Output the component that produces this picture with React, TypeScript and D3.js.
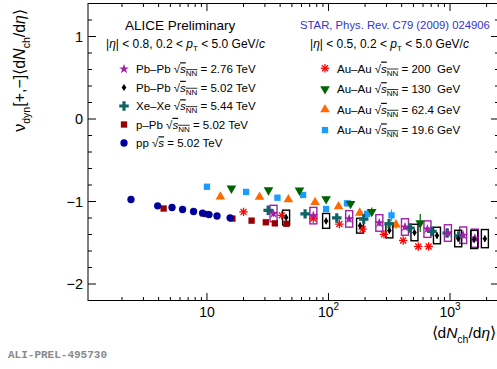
import React from 'react';
import * as d3 from 'd3';

// ---- data ----
const ppX = [2.37, 3.93, 5.16, 6.30, 7.76, 9.20, 10.4, 12.1, 15.5];
const ppY = [-0.976, -1.052, -1.073, -1.097, -1.121, -1.142, -1.158, -1.176, -1.198];

const pPbX = [4.40, 9.87, 16.2, 23.3, 30.5, 36.2, 45.1];
const pPbY = [-1.085, -1.152, -1.207, -1.232, -1.252, -1.265, -1.27];

const xeX = [31.9, 64.2, 117, 195, 315, 468, 710, 948, 1177];
const xeY = [-1.107, -1.150, -1.199, -1.213, -1.271, -1.321, -1.362, -1.382, -1.417];

const pb276X = [35.3, 75.1, 148, 262, 426, 652, 961, 1284, 1602];
const pb276Y = [-1.146, -1.171, -1.211, -1.260, -1.309, -1.335, -1.382, -1.409, -1.445];
const pb276Sys = [0.1, 0.1, 0.1, 0.1, 0.1, 0.1, 0.1, 0.1, 0.11];

const pb502X = [44.8, 95.6, 182, 317, 510, 781, 1168, 1581, 1936];
const pb502Y = [-1.195, -1.235, -1.293, -1.351, -1.376, -1.412, -1.449, -1.46, -1.45];
const pb502Sys = [0.09, 0.09, 0.09, 0.09, 0.1, 0.1, 0.1, 0.11, 0.11];

const au200X = [20.0, 41.3, 75.1, 123, 191, 286, 412, 548, 667];
const au200Y = [-1.126, -1.168, -1.207, -1.274, -1.335, -1.399, -1.473, -1.545, -1.545];

const au130X = [15.9, 32.1, 57.7, 95.6, 152, 227, 569];
const au130Y = [-0.841, -0.862, -0.865, -0.970, -1.028, -1.124, -1.26];
const au130Err = [0.02, 0.02, 0.03, 0.03, 0.04, 0.05, 0.11];

const au62X = [12.9, 27.1, 46.8, 77.6, 121, 181, 359];
const au62Y = [-0.943, -0.945, -0.976, -1.010, -1.061, -1.138, -1.280];
const au62Err = [0.02, 0.02, 0.02, 0.03, 0.03, 0.04, 0.05];

const au19X = [10.0, 21.0, 38.0, 61.8, 95.6, 142, 208, 330];
const au19Y = [-0.821, -0.884, -0.954, -0.921, -1.091, -1.022, -1.150, -1.168];
const au19Err = [0.02, 0.02, 0.02, 0.03, 0.03, 0.04, 0.05, 0.07];

const yMajor = [1, 0, -1, -2];
const xMajor = [10, 100, 1000];

const COL = {
  pb276: '#a020a8',
  pb502: '#000000',
  xe: '#0e6365',
  ppb: '#990000',
  pp: '#00009a',
  au200: '#ff0000',
  au130: '#006400',
  au62: '#ff6a00',
  au19: '#1a9cff',
  star: '#3333cc',
};

const FONT = 'Liberation Sans, Arial, Helvetica, sans-serif';

const W = 497;
const H = 369;
const L = 88, R = 499, T = 3.5, B = 300.5;

const xs = d3.scaleLog().domain([1.05, 2530]).range([L, R]);
const ys = d3.scaleLinear().domain([-2.2, 1.4]).range([B, T]);

type Kind = 'circle' | 'square' | 'cross' | 'star' | 'diamond' | 'tri' | 'triDown' | 'aster';

function Marker({ kind, cx, cy, color }: { kind: Kind; cx: number; cy: number; color: string }) {
  if (kind === 'aster') {
    const r = 4.2;
    const angs = [0, 45, 90, 135];
    return (
      <g stroke={color} strokeWidth={1.3}>
        {angs.map((a) => {
          const rad = (a * Math.PI) / 180;
          return (
            <line key={a} x1={cx - r * Math.cos(rad)} y1={cy - r * Math.sin(rad)} x2={cx + r * Math.cos(rad)} y2={cy + r * Math.sin(rad)} />
          );
        })}
      </g>
    );
  }
  if (kind === 'diamond') {
    const p = `M${cx},${cy - 3.5}L${cx + 2.3},${cy}L${cx},${cy + 3.5}L${cx - 2.3},${cy}Z`;
    return <path d={p} fill={color} />;
  }
  let sym: d3.SymbolType = d3.symbolCircle;
  let size = 40;
  let rot = 0;
  if (kind === 'circle') { sym = d3.symbolCircle; size = 42; }
  if (kind === 'square') { sym = d3.symbolSquare; size = 40; }
  if (kind === 'cross') { sym = d3.symbolCross; size = 50; }
  if (kind === 'star') { sym = d3.symbolStar; size = 30; }
  if (kind === 'tri') { sym = d3.symbolTriangle; size = 40; }
  if (kind === 'triDown') { sym = d3.symbolTriangle; size = 40; rot = 180; }
  const d = d3.symbol().type(sym).size(size)() as string;
  return <path d={d} fill={color} transform={`translate(${cx},${cy}) rotate(${rot})`} />;
}

function Series({ xv, yv, kind, color, err }: { xv: number[]; yv: number[]; kind: Kind; color: string; err?: number[] }) {
  return (
    <g>
      {xv.map((v, i) => {
        const cx = xs(v);
        const cy = ys(yv[i]);
        return (
          <g key={i}>
            {err ? (
              <line x1={cx} x2={cx} y1={ys(yv[i] + err[i])} y2={ys(yv[i] - err[i])} stroke={color} strokeWidth={1.2} />
            ) : null}
            <Marker kind={kind} cx={cx} cy={cy} color={color} />
          </g>
        );
      })}
    </g>
  );
}

function SysBoxes({ xv, yv, sys, color }: { xv: number[]; yv: number[]; sys: number[]; color: string }) {
  return (
    <g>
      {xv.map((v, i) => {
        const cx = xs(v);
        const y1 = ys(yv[i] + sys[i]);
        const y2 = ys(yv[i] - sys[i]);
        return (
          <g key={i}>
            <rect x={cx - 3.5} y={y1} width={7} height={y2 - y1} fill="none" stroke={color} strokeWidth={1.4} />
            <line x1={cx} x2={cx} y1={ys(yv[i] + 0.04)} y2={ys(yv[i] - 0.04)} stroke={color} strokeWidth={1} />
          </g>
        );
      })}
    </g>
  );
}

function SqrtS({ nn }: { nn: boolean }) {
  return (
    <>
      <tspan>√</tspan>
      <tspan fontStyle="italic" style={{ textDecoration: 'overline' }}>s</tspan>
      {nn ? (
        <>
          <tspan fontSize={8} dy={3} style={{ textDecoration: 'overline' }}>NN</tspan>
          <tspan dy={-3}> </tspan>
        </>
      ) : (
        <tspan> </tspan>
      )}
    </>
  );
}

const leftLegend: { kind: Kind; color: string; sys: string; nn: boolean; val: string }[] = [
  { kind: 'star', color: COL.pb276, sys: 'Pb–Pb', nn: true, val: '= 2.76 TeV' },
  { kind: 'diamond', color: COL.pb502, sys: 'Pb–Pb', nn: true, val: '= 5.02 TeV' },
  { kind: 'cross', color: COL.xe, sys: 'Xe–Xe', nn: true, val: '= 5.44 TeV' },
  { kind: 'square', color: COL.ppb, sys: 'p–Pb', nn: true, val: '= 5.02 TeV' },
  { kind: 'circle', color: COL.pp, sys: 'pp', nn: false, val: '= 5.02 TeV' },
];

const rightLegend: { kind: Kind; color: string; val: string }[] = [
  { kind: 'aster', color: COL.au200, val: '= 200\u00a0\u00a0GeV' },
  { kind: 'triDown', color: COL.au130, val: '= 130\u00a0\u00a0GeV' },
  { kind: 'tri', color: COL.au62, val: '= 62.4 GeV' },
  { kind: 'square', color: COL.au19, val: '= 19.6 GeV' },
];

function Cuts({ x, y, eta }: { x: number; y: number; eta: string }) {
  return (
    <text x={x} y={y} fontSize={12} fontFamily={FONT} fill="#000">
      <tspan>|</tspan>
      <tspan fontStyle="italic">η</tspan>
      <tspan>{`| < ${eta}, 0.2 < `}</tspan>
      <tspan fontStyle="italic">p</tspan>
      <tspan fontSize={8} dy={3}>T</tspan>
      <tspan dy={-3}>{' < 5.0 GeV/'}</tspan>
      <tspan fontStyle="italic">c</tspan>
    </text>
  );
}

export default function App() {
  const yMinor = d3.range(-22, 15, 2).map((v) => v / 10);
  const xMinor: number[] = [];
  [1, 10, 100, 1000].forEach((dec) => {
    for (let k = 2; k <= 9; k++) {
      const v = dec * k;
      if (v > 1.05 && v < 2530) xMinor.push(v);
    }
  });

  return (
    <svg width={W} height={H} style={{ position: 'absolute', left: 0, top: 0, background: '#fff' }} fontFamily={FONT}>
      <rect x={0} y={0} width={W} height={H} fill="#fff" />
      {/* frame */}
      <rect x={L} y={T} width={R - L} height={B - T} fill="none" stroke="#000" strokeWidth={1} />

      {/* y ticks */}
      {yMinor.map((v) => {
        const maj = yMajor.some((m) => Math.abs(m - v) < 1e-6);
        const len = maj ? 8 : 4;
        return (
          <g key={`y${v}`} stroke="#000" strokeWidth={1}>
            <line x1={L} x2={L + len} y1={ys(v)} y2={ys(v)} />
            <line x1={R} x2={R - len} y1={ys(v)} y2={ys(v)} />
          </g>
        );
      })}
      {yMajor.map((v) => (
        <text key={`yl${v}`} x={83} y={ys(v) + 5} fontSize={14.5} textAnchor="end">
          {v < 0 ? `−${Math.abs(v)}` : `${v}`}
        </text>
      ))}

      {/* x ticks */}
      {xMinor.map((v) => (
        <g key={`xm${v}`} stroke="#000" strokeWidth={1}>
          <line x1={xs(v)} x2={xs(v)} y1={B} y2={B - 3.5} />
          <line x1={xs(v)} x2={xs(v)} y1={T} y2={T + 3.5} />
        </g>
      ))}
      {xMajor.map((v) => (
        <g key={`xM${v}`} stroke="#000" strokeWidth={1}>
          <line x1={xs(v)} x2={xs(v)} y1={B} y2={B - 7.5} />
          <line x1={xs(v)} x2={xs(v)} y1={T} y2={T + 7.5} />
        </g>
      ))}
      {xMajor.map((v) => {
        const e = Math.round(Math.log10(v));
        return (
          <text key={`xl${v}`} x={xs(v)} y={317} fontSize={14} textAnchor="middle">
            <tspan>10</tspan>
            {e > 1 ? <tspan fontSize={10} dy={-7}>{e}</tspan> : null}
          </text>
        );
      })}

      {/* axis titles */}
      <text x={496} y={338} fontSize={15.5} textAnchor="end">
        <tspan>⟨d</tspan>
        <tspan fontStyle="italic">N</tspan>
        <tspan fontSize={10.5} dy={5}>ch</tspan>
        <tspan dy={-5}>/d</tspan>
        <tspan fontStyle="italic">η</tspan>
        <tspan>⟩</tspan>
      </text>
      <text transform="translate(25,9) rotate(-90)" fontSize={16} textAnchor="end">
        <tspan>ν</tspan>
        <tspan fontSize={10.5} dy={5}>dyn</tspan>
        <tspan dy={-5}>[+,−]⟨d</tspan>
        <tspan fontStyle="italic">N</tspan>
        <tspan fontSize={10.5} dy={5}>ch</tspan>
        <tspan dy={-5}>/d</tspan>
        <tspan fontStyle="italic">η</tspan>
        <tspan>⟩</tspan>
      </text>

      {/* headers */}
      <text x={125} y={30} fontSize={13.5}>ALICE Preliminary</text>
      <Cuts x={106} y={48} eta="0.8" />
      <text x={300} y={29} fontSize={11.3} fill={COL.star}>STAR, Phys. Rev. C79 (2009) 024906</text>
      <Cuts x={310} y={48} eta="0.5" />

      {/* left legend */}
      {leftLegend.map((e, i) => {
        const cy = 69 + i * 18.5;
        return (
          <g key={`ll${i}`}>
            <Marker kind={e.kind} cx={124} cy={cy} color={e.color} />
            <text x={136} y={cy + 4.3} fontSize={11.5}>
              <tspan>{`${e.sys} `}</tspan>
              <SqrtS nn={e.nn} />
              <tspan>{e.val}</tspan>
            </text>
          </g>
        );
      })}

      {/* right legend */}
      {rightLegend.map((e, i) => {
        const cy = 68.3 + i * 20.6;
        return (
          <g key={`rl${i}`}>
            <Marker kind={e.kind} cx={325} cy={cy} color={e.color} />
            <text x={337} y={cy + 4.3} fontSize={11.5}>
              <tspan>{'Au–Au '}</tspan>
              <SqrtS nn={true} />
              <tspan>{e.val}</tspan>
            </text>
          </g>
        );
      })}

      {/* data */}
      <Series xv={au19X} yv={au19Y} kind="square" color={COL.au19} err={au19Err} />
      <Series xv={au62X} yv={au62Y} kind="tri" color={COL.au62} err={au62Err} />
      <Series xv={au130X} yv={au130Y} kind="triDown" color={COL.au130} err={au130Err} />
      <SysBoxes xv={pb276X} yv={pb276Y} sys={pb276Sys} color={COL.pb276} />
      <SysBoxes xv={pb502X} yv={pb502Y} sys={pb502Sys} color={COL.pb502} />
      <Series xv={au200X} yv={au200Y} kind="aster" color={COL.au200} />
      <Series xv={pPbX} yv={pPbY} kind="square" color={COL.ppb} />
      <Series xv={ppX} yv={ppY} kind="circle" color={COL.pp} />
      <Series xv={xeX} yv={xeY} kind="cross" color={COL.xe} />
      <Series xv={pb276X} yv={pb276Y} kind="star" color={COL.pb276} />
      <Series xv={pb502X} yv={pb502Y} kind="diamond" color={COL.pb502} />

      <text x={8} y={358} fontSize={11} fontFamily="Liberation Mono, Courier New, monospace" fontWeight="bold" fill="#8a8a8a">
        ALI-PREL-495730
      </text>
    </svg>
  );
}
